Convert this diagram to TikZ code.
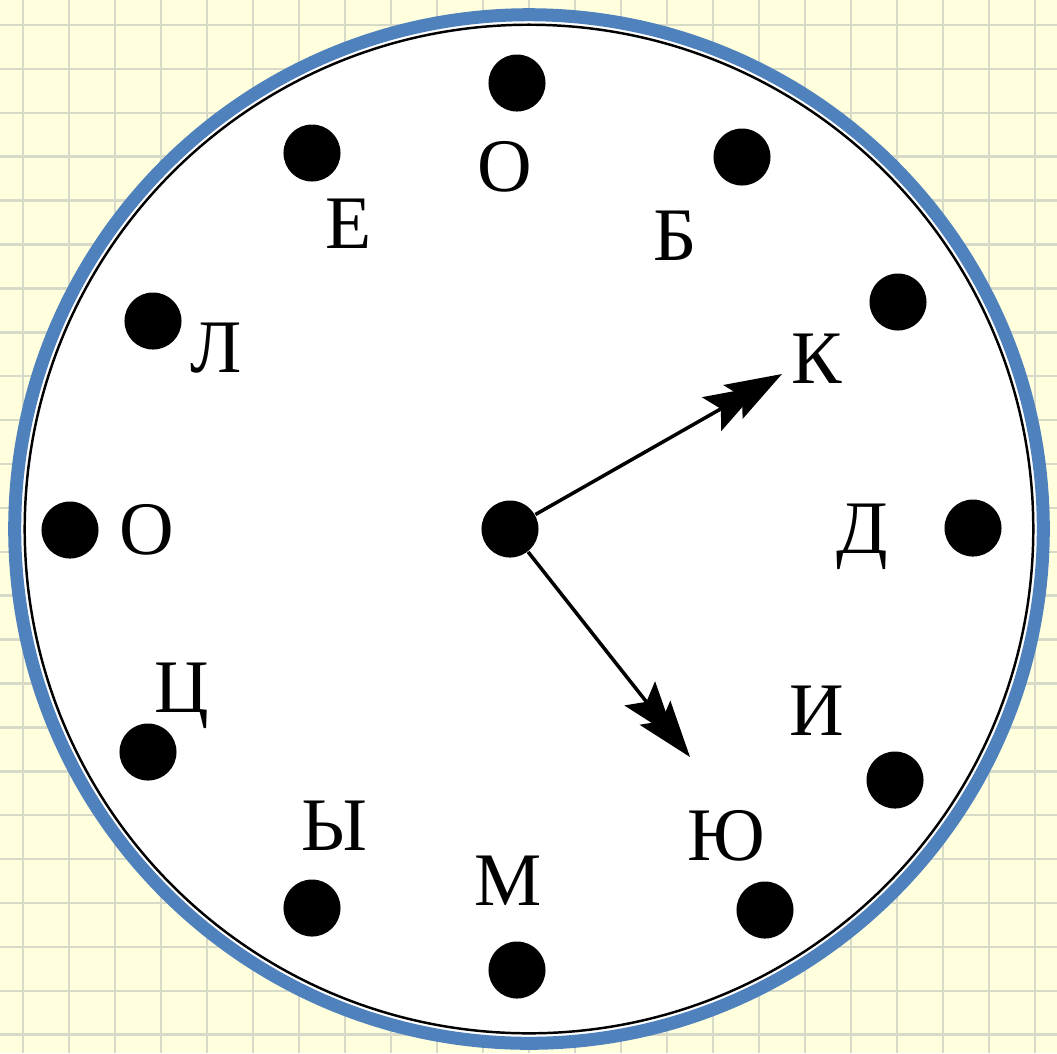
\documentclass[tikz,border=0pt]{standalone}
\usepackage{fontspec}
\setmainfont{Liberation Serif}
\usetikzlibrary{arrows.meta}
\definecolor{paper}{RGB}{255,255,222}
\definecolor{gridline}{RGB}{214,218,198}
\definecolor{rimblue}{RGB}{79,129,189}
\begin{document}
\begin{tikzpicture}[x=0.01cm,y=-0.01cm,
  dot/.style={circle,fill=black,inner sep=0pt,minimum size=0.57cm},
  letter/.style={font=\fontsize{21.5}{24}\selectfont,anchor=base,inner sep=0pt},
  gridrule/.style={draw=gridline,line width=0.7pt},
  hand/.style={line width=1pt,-{Stealth[length=16pt,width=11pt,inset=3pt,sep=-9pt]Stealth[length=16pt,width=11pt,inset=3pt]}}]
\useasboundingbox (0,0) rectangle (1057,1053);
\fill[paper] (0,0) rectangle (1057,1053);
\foreach \k in {0,...,22} \draw[gridrule] ({23+46*\k},0) -- ({23+46*\k},1053);
\foreach \k in {0,...,23} \draw[gridrule] (0,{25+43.9*\k}) -- (1057,{25+43.9*\k});
% dial
\fill[white] (529,529) circle[radius=5.1cm];
\draw[black,line width=0.7pt] (529,529) circle[radius=5.04cm];
\draw[rimblue,line width=3.7pt] (529,529) circle[radius=5.14cm];
% hour dots
\node[dot] (h12) at (517,83) {};
\node[dot] (h1) at (742,157) {};
\node[dot] (h2) at (898,302) {};
\node[dot] (h3) at (973,528) {};
\node[dot] (h4) at (895,780) {};
\node[dot] (h5) at (765,910) {};
\node[dot] (h6) at (517,970) {};
\node[dot] (h7) at (312,908) {};
\node[dot] (h8) at (148,752) {};
\node[dot] (h9) at (70,530) {};
\node[dot] (h10) at (153,321) {};
\node[dot] (h11) at (312,153) {};
% letters
\node[letter] (lO1) at (505,191) {О};
\node[letter] (lB) at (675,260) {Б};
\node[letter] (lK) at (817,383) {К};
\node[letter] (lD) at (862,553) {Д};
\node[letter] (lI) at (817,735) {И};
\node[letter] (lYu) at (726,860) {Ю};
\node[letter] (lM) at (508,905) {М};
\node[letter] (lY) at (334,850) {Ы};
\node[letter] (lTs) at (182,712) {Ц};
\node[letter] (lO2) at (147,554) {О};
\node[letter] (lL) at (216,372) {Л};
\node[letter] (lE) at (349,248) {Е};
% hands
\node[dot] (c) at (510,529) {};
\coordinate (tipK) at (782,374);
\coordinate (tipYu) at (690,757);
\draw[hand] (c) -- (tipK);
\draw[hand] (c) -- (tipYu);
\end{tikzpicture}
\end{document}
